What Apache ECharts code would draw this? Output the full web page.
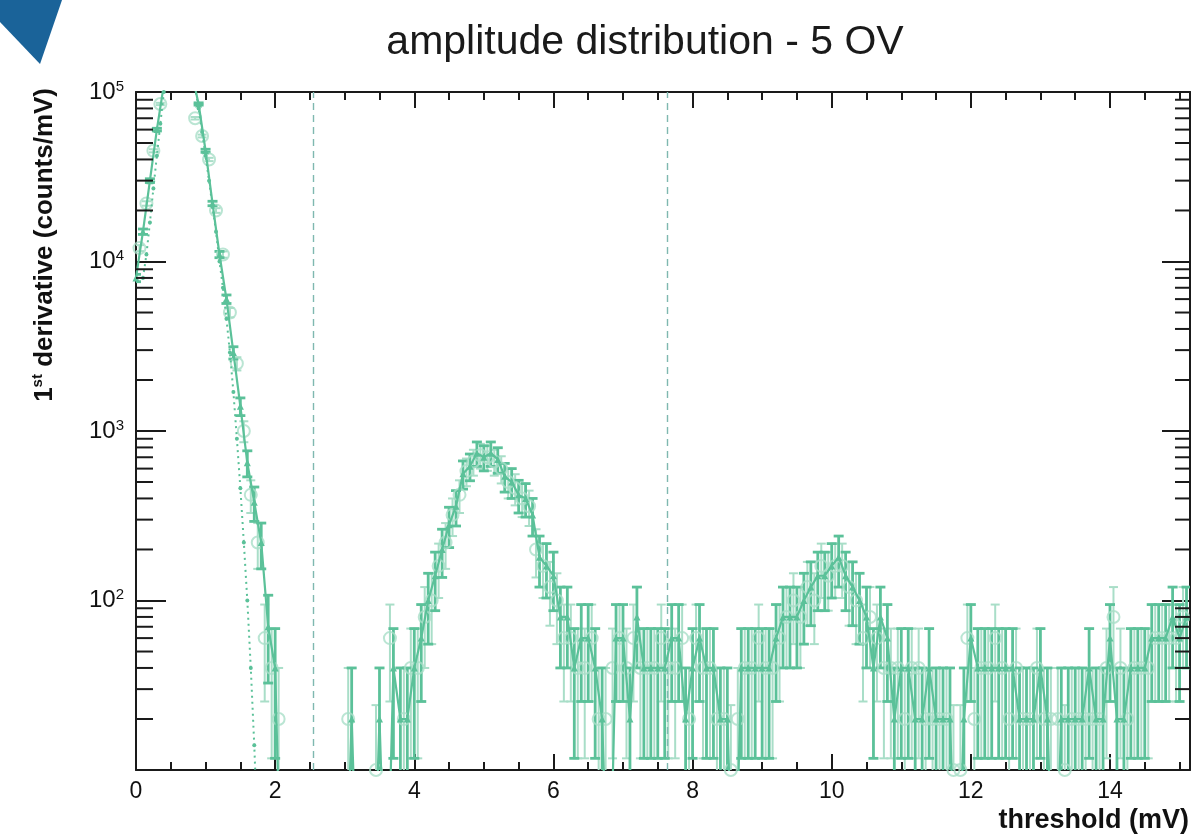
<!DOCTYPE html>
<html>
<head>
<meta charset="utf-8">
<script src="https://cdn.jsdelivr.net/npm/echarts@6/dist/echarts.min.js"></script>
<style>
html,body{margin:0;padding:0;background:#ffffff;}
#chart{width:1195px;height:839px;}
</style>
</head>
<body>
<div id="chart"></div>
<script>
// ---------------- data ----------------
const TITLE = 'amplitude distribution - 5 OV';
const X_NAME = 'threshold (mV)';
const X_MIN = 0, X_MAX = 15.15, X_INTERVAL = 2, X_MINOR_INTERVAL = 0.5;
const Y_MIN = 10, Y_MAX = 1e5;

// threshold grid of the main series (mV)
const A_START = 0.0, A_STEP = 0.1;
// 1st derivative (counts/mV), main series (filled markers, solid line)
const derivA = [
  8000, 15000, 30000, 60000, 110000, 140000, 160000, 160000, 130000, 85000,
  45000, 22000, 11000, 6000, 2900, 1400, 650, 380, 220, 70,
  40, 0, 0, 0, 0, 0, 0, 0, 0, 0,
  0, 20, 0, 0, 0, 20, 0, 40, 20, 20,
  40, 60, 100, 140, 200, 280, 360, 560, 620, 740,
  700, 740, 680, 540, 500, 420, 400, 320, 180, 160,
  140, 80, 80, 40, 60, 60, 40, 20, 0, 60,
  60, 20, 80, 40, 40, 40, 40, 60, 60, 20,
  40, 60, 40, 40, 20, 20, 0, 40, 40, 40,
  40, 40, 60, 80, 80, 80, 100, 120, 140, 140,
  160, 180, 140, 120, 100, 80, 40, 80, 60, 20,
  40, 40, 20, 20, 40, 20, 20, 20, 0, 20,
  60, 40, 40, 40, 40, 40, 40, 20, 20, 20,
  40, 20, 0, 20, 20, 20, 20, 40, 20, 20,
  60, 20, 20, 40, 40, 40, 60, 60, 60, 80,
  60, 80
];

// second series (open circles), grid offset by half a step
const B_START = 0.05, B_STEP = 0.1;
const derivB = [
  12000, 22000, 45000, 85000, 130000, 150000, 160000, 150000, 70000, 55000,
  40000, 20000, 11000, 5000, 2500, 1000, 420, 220, 60, 40,
  20, 0, 0, 0, 0, 0, 0, 0, 0, 0,
  20, 0, 0, 0, 10, 0, 60, 0, 20, 40,
  40, 80, 100, 160, 220, 320, 420, 580, 660, 720,
  700, 660, 600, 500, 460, 400, 360, 200, 160, 120,
  100, 60, 60, 40, 40, 60, 20, 20, 40, 60,
  40, 60, 40, 40, 40, 60, 40, 40, 60, 20,
  60, 40, 40, 20, 20, 10, 20, 40, 40, 60,
  40, 40, 60, 80, 100, 80, 120, 100, 160, 140,
  160, 160, 120, 100, 60, 80, 60, 40, 40, 40,
  20, 40, 40, 20, 20, 20, 20, 10, 10, 60,
  20, 40, 40, 60, 40, 20, 40, 20, 20, 40,
  20, 20, 20, 10, 20, 20, 20, 20, 20, 40,
  80, 40, 20, 40, 40, 40, 60, 60, 60, 60,
  80
];

// dotted pedestal curve
const F_START = 0.10, F_STEP = 0.05;
const fitValues = [
  8000, 11000, 17000, 27000, 42000, 65000, 100000, 140000, 180000, 220000,
  240000, 240000, 220000, 180000, 140000, 105000, 80000, 58000, 42000, 30000,
  21000, 15000, 10000, 7000, 4600, 2900, 1700, 900, 460, 220,
  100, 40, 14, 4
];

// vertical dashed threshold markers (mV)
const cutLines = [2.55, 7.64];

// bin width used for the Poisson error on counts/mV
const BIN_WIDTH = 0.05;

// ---------------- styling ----------------
const FONT = '"Liberation Sans", Arial, Helvetica, sans-serif';
const TEAL = '#5bc199';
const LIGHT = '#a9dec8';
const AXIS = '#1a1a1a';
const FLOOR = 1; // zero bins are drawn below the axis floor and clipped

const grid = {left: 136, right: 5, top: 92, bottom: 69};

function pts(start, step, vals) {
  return vals.map((v, i) => [+(start + i * step).toFixed(3), v]);
}
const ptsA = pts(A_START, A_STEP, derivA);
const ptsB = pts(B_START, B_STEP, derivB);
const ptsF = pts(F_START, F_STEP, fitValues);

function errData(points) {
  return points.filter(p => p[1] > 0).map(([x, v]) => {
    const e = Math.sqrt(v / BIN_WIDTH);
    return [x, Math.max(v - e, FLOOR), v + e];
  });
}

function errRender(color, width, cap) {
  return function (params, api) {
    const cs = params.coordSys;
    const x = api.value(0);
    const top = api.coord([x, api.value(2)]);
    const bot = api.coord([x, api.value(1)]);
    const yMin = cs.y, yMax = cs.y + cs.height;
    const y1 = Math.max(yMin, Math.min(yMax, top[1]));
    const y2 = Math.max(yMin, Math.min(yMax, bot[1]));
    const st = {stroke: color, lineWidth: width};
    const ch = [{type: 'line', shape: {x1: top[0], y1: y1, x2: top[0], y2: y2}, style: st}];
    if (top[1] >= yMin && top[1] <= yMax) ch.push({type: 'line', shape: {x1: top[0] - cap, y1: y1, x2: top[0] + cap, y2: y1}, style: st});
    if (bot[1] <= yMax && bot[1] >= yMin) ch.push({type: 'line', shape: {x1: top[0] - cap, y1: y2, x2: top[0] + cap, y2: y2}, style: st});
    return {type: 'group', children: ch};
  };
}

// minor log ticks 2..9 per decade
const yMinor = [];
for (let d = Y_MIN; d < Y_MAX; d *= 10) for (let m = 2; m <= 9; m++) yMinor.push([X_MIN, m * d]);

const chart = echarts.init(document.getElementById('chart'), null, {renderer: 'canvas'});

const xBase = {
  type: 'value', min: X_MIN, max: X_MAX, splitLine: {show: false},
  axisLine: {onZero: false}
};

const option = {
  backgroundColor: '#ffffff',
  animation: false,
  grid: grid,
  xAxis: [
    Object.assign({}, xBase, {
      position: 'bottom', interval: X_INTERVAL,
      axisLine: {show: true, onZero: false, lineStyle: {color: AXIS, width: 2}},
      axisTick: {show: true, inside: true, length: 16, lineStyle: {color: AXIS, width: 2}},
      axisLabel: {show: true, showMaxLabel: false, margin: 10, fontFamily: FONT, fontSize: 23, color: '#111'}
    }),
    Object.assign({}, xBase, {
      position: 'bottom', interval: X_MINOR_INTERVAL,
      axisLine: {show: false, onZero: false},
      axisTick: {show: true, inside: true, length: 8, lineStyle: {color: AXIS, width: 2}},
      axisLabel: {show: false}
    }),
    Object.assign({}, xBase, {
      position: 'top', interval: X_INTERVAL,
      axisLine: {show: true, onZero: false, lineStyle: {color: AXIS, width: 2}},
      axisTick: {show: true, inside: true, length: 16, lineStyle: {color: AXIS, width: 2}},
      axisLabel: {show: false}
    }),
    Object.assign({}, xBase, {
      position: 'top', interval: X_MINOR_INTERVAL,
      axisLine: {show: false, onZero: false},
      axisTick: {show: true, inside: true, length: 8, lineStyle: {color: AXIS, width: 2}},
      axisLabel: {show: false}
    })
  ],
  yAxis: [
    {
      type: 'log', logBase: 10, min: Y_MIN, max: Y_MAX, position: 'left',
      splitLine: {show: false},
      axisLine: {show: true, onZero: false, lineStyle: {color: AXIS, width: 2}},
      axisTick: {show: true, inside: true, length: 30, lineStyle: {color: AXIS, width: 2}},
      axisLabel: {
        show: true, showMinLabel: false, margin: 12,
        formatter: v => '{b|10}{s|' + Math.round(Math.log10(v)) + '}',
        rich: {
          b: {fontFamily: FONT, fontSize: 24, color: '#111', lineHeight: 26},
          s: {fontFamily: FONT, fontSize: 15, color: '#111', verticalAlign: 'top', lineHeight: 14, padding: [0, 0, 8, 0]}
        }
      }
    },
    {
      type: 'log', logBase: 10, min: Y_MIN, max: Y_MAX, position: 'right',
      splitLine: {show: false},
      axisLine: {show: true, onZero: false, lineStyle: {color: AXIS, width: 2}},
      axisTick: {show: true, inside: true, length: 28, lineStyle: {color: AXIS, width: 2}},
      axisLabel: {show: false}
    }
  ],
  graphic: [
    {type: 'polygon', shape: {points: [[0, 0], [62, 0], [40, 64], [0, 22]]}, style: {fill: '#1a6399'}, z: 100},
    {type: 'text', x: 645, y: 43, style: {text: TITLE, font: '41px ' + FONT, fill: '#1a1a1a', align: 'center', verticalAlign: 'middle'}},
    {
      type: 'text', x: 45, y: 88, rotation: Math.PI / 2,
      style: {
        text: '{a|1}{s|st}{a| derivative (counts/mV)}', align: 'right', verticalAlign: 'middle',
        rich: {
          a: {fontFamily: FONT, fontWeight: 'bold', fontSize: 26, fill: '#111', color: '#111', lineHeight: 30},
          s: {fontFamily: FONT, fontWeight: 'bold', fontSize: 15, fill: '#111', color: '#111', verticalAlign: 'top', lineHeight: 16, padding: [0, 0, 10, 0]}
        }
      }
    },
    {type: 'text', x: 1189, y: 821, style: {text: X_NAME, font: 'bold 27px ' + FONT, fill: '#111', align: 'right', verticalAlign: 'middle'}}
  ],
  series: [
    {
      name: 'y minor ticks', type: 'custom', xAxisIndex: 0, yAxisIndex: 0, silent: true, z: 10,
      data: yMinor,
      renderItem: function (params, api) {
        const cs = params.coordSys;
        const y = api.coord([api.value(0), api.value(1)])[1];
        const st = {stroke: AXIS, lineWidth: 2};
        return {type: 'group', children: [
          {type: 'line', shape: {x1: cs.x, y1: y, x2: cs.x + 17, y2: y}, style: st},
          {type: 'line', shape: {x1: cs.x + cs.width - 15, y1: y, x2: cs.x + cs.width, y2: y}, style: st}
        ]};
      }
    },
    {
      name: 'cuts', type: 'line', data: [], xAxisIndex: 0, yAxisIndex: 0, z: 1,
      markLine: {
        silent: true, symbol: 'none', label: {show: false},
        lineStyle: {type: [7, 5], color: '#7fb8b0', width: 1.4},
        data: cutLines.map(c => ({xAxis: c}))
      }
    },
    {
      name: 'errB', type: 'custom', clip: true, silent: true, z: 2,
      data: errData(ptsB), renderItem: errRender(LIGHT, 2, 4.5)
    },
    {
      name: 'errA', type: 'custom', clip: true, silent: true, z: 3,
      data: errData(ptsA), renderItem: errRender(TEAL, 2.8, 5)
    },
    {
      name: 'circles', type: 'scatter', clip: true, silent: true, z: 4,
      data: ptsB.filter(p => p[1] > 0),
      symbol: 'circle', symbolSize: 12,
      itemStyle: {color: 'rgba(255,255,255,0)', borderColor: LIGHT, borderWidth: 2}
    },
    {
      name: 'fit', type: 'line', clip: true, silent: true, z: 5,
      data: ptsF, symbol: 'circle', symbolSize: 4, showSymbol: true,
      itemStyle: {color: TEAL}, lineStyle: {color: TEAL, width: 2, type: [2, 4]}
    },
    {
      name: 'derivative', type: 'line', clip: true, silent: true, z: 6,
      data: ptsA.map(([x, v]) => [x, v > 0 ? v : FLOOR]),
      symbol: 'triangle', symbolSize: 7, showSymbol: true,
      itemStyle: {color: TEAL}, lineStyle: {color: TEAL, width: 2.2}
    }
  ]
};
chart.setOption(option);
</script>
</body>
</html>
